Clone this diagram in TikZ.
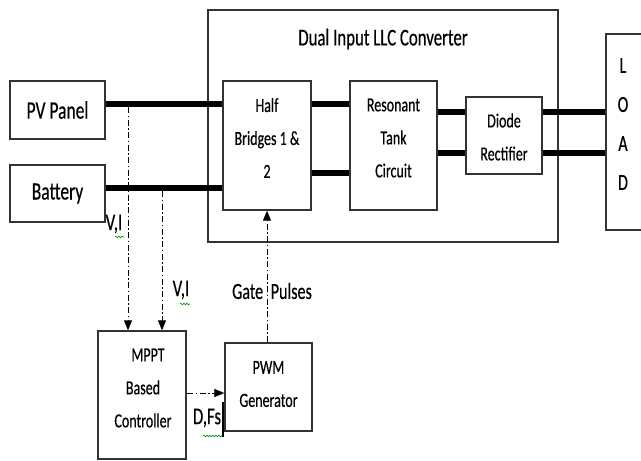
\documentclass[tikz,border=0pt]{standalone}
\usepackage{fontspec}
\setmainfont{Carlito}[FakeStretch=0.7,FakeBold=0.4]
\usetikzlibrary{arrows.meta,decorations.pathmorphing}
\begin{document}
\begin{tikzpicture}[x=1pt,y=-1pt,
  box/.style={draw=black!80,line width=1.3pt,rectangle,inner sep=0pt},
  btxt/.style={font=\fontsize{20}{33}\selectfont,align=center,inner sep=0pt},
  power/.style={line width=6pt,black},
  dd/.style={line width=1pt,dash pattern=on 6pt off 2.5pt on 1.5pt off 2.5pt,
    -{Triangle[length=10pt,width=8pt]}},
  squig/.style={green!55!black,line width=0.6pt,decorate,
    decoration={snake,amplitude=0.9pt,segment length=3pt}}]
\useasboundingbox (0,0) rectangle (641,461);
\clip (0,0) rectangle (641,461);
\fill[white] (0,0) rectangle (641,461);
% converter frame
\node[box,minimum width=350pt,minimum height=232pt] (conv) at (383,126) {};
\node[font=\fontsize{24}{28}\selectfont,inner sep=0pt] (title) at (383,39) {Dual Input LLC Converter};
% sources
\node[box,minimum width=95pt,minimum height=58pt,font=\fontsize{25}{30}\selectfont] (pv) at (57.5,110) {PV Panel};
\node[box,minimum width=95pt,minimum height=57pt,font=\fontsize{25}{30}\selectfont] (bat) at (57.5,193.5) {Battery};
% inner blocks
\node[box,minimum width=88pt,minimum height=129pt] (hb) at (267,145.5) {};
\node[btxt] (hbt) at (267,138) {Half\\Bridges 1 \&\\2};
\node[box,minimum width=87pt,minimum height=129pt] (rt) at (393.5,145.5) {};
\node[btxt] (rtt) at (393.5,138) {Resonant\\Tank\\Circuit};
\node[box,minimum width=76pt,minimum height=77pt] (dr) at (504,135.5) {};
\node[btxt] (drt) at (504,137) {Diode\\Rectifier};
% load
\node[box,minimum width=36pt,minimum height=196pt] (load) at (624,132) {};
\node[font=\fontsize{23}{39}\selectfont,align=center,inner sep=0pt] (loadt) at (623,124) {L\\O\\A\\D};
% controller blocks
\node[box,minimum width=88pt,minimum height=128pt] (mppt) at (142,395) {};
\node[btxt] (mpptt) at (143,388) {\hspace*{10pt}MPPT\\Based\\Controller};
\node[box,minimum width=87pt,minimum height=88pt] (pwm) at (268.5,387) {};
\node[btxt] (pwmt) at (268.5,384) {PWM\\Generator};
% power lines
\draw[power] ([yshift=6pt]pv.east) -- ([yshift=6pt]pv.east -| hb.west);
\draw[power] ([yshift=5.5pt]bat.east) -- ([yshift=5.5pt]bat.east -| hb.west);
\draw[power] ([yshift=41.5pt]hb.east) -- ([yshift=41.5pt]hb.east -| rt.west);
\draw[power] ([yshift=-27.5pt]hb.east) -- ([yshift=-27.5pt]hb.east -| rt.west);
\draw[power] ([yshift=33.5pt]rt.east) -- ([yshift=23.5pt]dr.west);
\draw[power] ([yshift=-7.5pt]rt.east) -- ([yshift=-17.5pt]dr.west);
\draw[power] ([yshift=23.5pt]dr.east) -- ([yshift=23.5pt]dr.east -| load.west);
\draw[power] ([yshift=-17.5pt]dr.east) -- ([yshift=-17.5pt]dr.east -| load.west);
% sensing taps
\coordinate (tappv) at (128,107);
\coordinate (tapbat) at (162,191);
\draw[dd] (tappv) -- (tappv |- mppt.north);
\draw[dd] (tapbat) -- (tapbat |- mppt.north);
% gate pulses
\draw[dd] (pwm.north -| hb.south) -- (hb.south);
\node[font=\fontsize{23}{27}\selectfont,inner sep=0pt] (gp) at (272,291) {Gate\hspace{4pt} Pulses};
% MPPT -> PWM
\coordinate (dfs) at (186,393);
\draw[dd] ([xshift=1pt]dfs) -- (dfs -| pwm.west);
% labels
\node[font=\fontsize{24}{28}\selectfont,inner sep=0pt] (vi1) at (114,224) {V,I};
\node[font=\fontsize{24}{28}\selectfont,inner sep=0pt] (vi2) at (181,290) {V,I};
\node[font=\fontsize{24}{28}\selectfont,inner sep=0pt] (df) at (207,418) {D,Fs};
% spell-check squiggles and cursor
\draw[squig] (115,237) -- (124,237);
\draw[squig] (180,304) -- (190,304);
\draw[squig] (203,436) -- (222,436);
\draw[line width=1.8pt] (223,402) -- (223,437);
\end{tikzpicture}
\end{document}
